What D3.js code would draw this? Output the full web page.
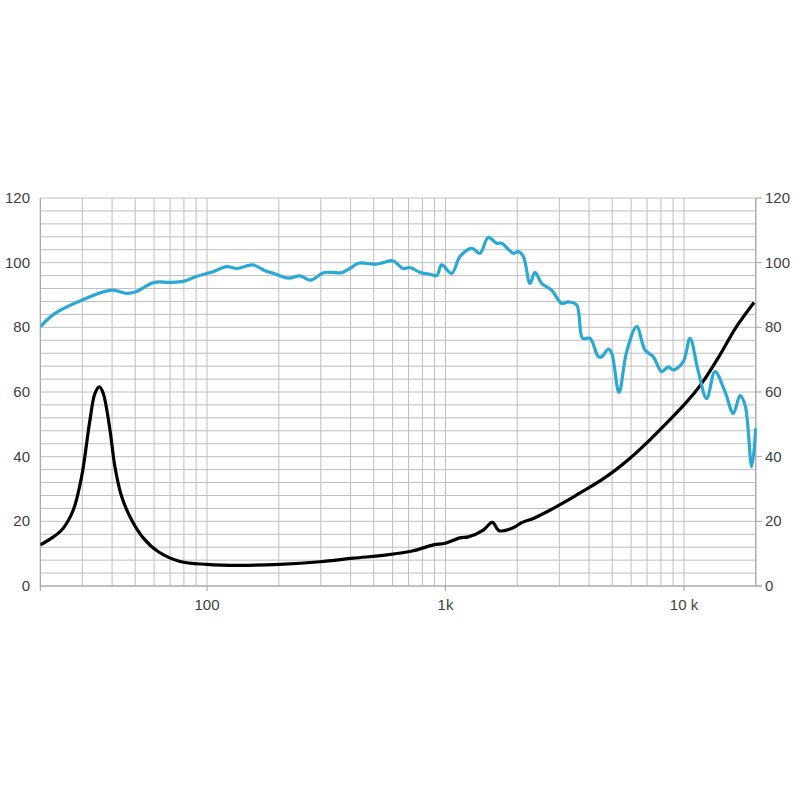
<!DOCTYPE html>
<html>
<head>
<meta charset="utf-8">
<script src="https://cdn.jsdelivr.net/npm/d3@7"></script>
<style>
  html, body { margin: 0; padding: 0; background: #fff; }
  svg text { font-family: "Liberation Sans", Arial, sans-serif; }
</style>
</head>
<body>
<svg id="chart" width="800" height="800"></svg>
<script>
// ---- Data ----
const splFreq = [20, 23.05, 29.8, 39.8, 46, 49.9, 60.1, 70, 80, 90, 100, 106, 121, 133, 145, 156.4, 175, 189.7, 219, 245.5, 272, 307.5, 333.5, 367, 397.7, 430.7, 467.4, 506.4, 548.6, 600.8, 665.5, 709.6, 781.6, 861, 918.5, 963.9, 1062, 1150, 1289, 1395, 1510, 1639, 1720, 1924, 2019, 2120, 2261, 2373, 2530, 2787, 3069, 3272, 3548, 3759, 4036, 4375, 4518, 4816, 4976, 5338, 5750, 6335, 6863, 7432, 8062, 8598, 9019, 9932, 10594, 11481, 12450, 13490, 14860, 16100, 17180, 18030, 19230, 20000];
const splValues = [80.2, 84.3, 88.4, 91.5, 90.5, 90.9, 93.9, 93.9, 94.3, 95.7, 96.7, 97.2, 98.8, 98.2, 98.9, 99.3, 97.5, 96.7, 95.2, 95.9, 94.6, 96.9, 97.0, 96.9, 98.2, 99.8, 99.8, 99.5, 100.0, 100.6, 98.2, 98.5, 97.0, 96.4, 96.0, 99.3, 96.7, 101.9, 104.4, 102.9, 107.8, 106.0, 106.0, 102.9, 103.4, 101.9, 93.6, 97.0, 93.6, 91.5, 87.4, 87.9, 86.9, 76.6, 76.6, 70.9, 70.9, 73.3, 72.0, 59.9, 72.5, 80.2, 73.0, 70.9, 66.3, 67.8, 66.8, 69.4, 76.6, 66.3, 58.0, 66.3, 60.1, 53.4, 58.9, 56.0, 36.9, 48.8];

const impFreq = [20, 22.7, 24.9, 27.5, 29.8, 32.3, 33.9, 35.4, 36.7, 39.2, 41.1, 43.9, 48.3, 54.1, 62.5, 77.1, 99.7, 137.5, 202, 298, 410.7, 567, 733, 889, 995, 1150, 1246, 1440, 1571, 1681, 1924, 2086, 2335, 2831, 3220, 3665, 4445, 5187, 5937, 7195, 8486, 10000, 10906, 11904, 14155, 16520, 19660];
const impValues = [12.7, 15.2, 17.8, 23.5, 33.8, 51.3, 59.6, 61.6, 59.6, 48.2, 36.9, 27.6, 20.4, 14.8, 10.6, 7.6, 6.7, 6.4, 6.7, 7.5, 8.6, 9.6, 10.9, 12.7, 13.2, 14.9, 15.2, 17.3, 19.7, 17.1, 18.0, 19.6, 20.9, 24.0, 26.3, 28.8, 32.5, 36.0, 39.5, 45.2, 50.5, 56.0, 59.2, 62.8, 71.5, 80, 87.7];

const yTicks = [0, 20, 40, 60, 80, 100, 120];
const xTickValues = [100, 1000, 10000];
const xTickLabels = ["100", "1k", "10 k"];

// ---- Layout ----
const svg = d3.select("#chart");
const pL = 40.3, pR = 755.8, pT = 198, pB = 586;

const x = d3.scaleLog().domain([20, 20000]).range([pL, pR]);
const y = d3.scaleLinear().domain([0, 120]).range([pB, pT]);

// minor vertical grid
const vGrid = [];
[10, 100, 1000, 10000].forEach(dec => {
  for (let k = 1; k <= 9; k++) {
    const f = dec * k;
    if (f >= 20 && f <= 20000) vGrid.push(f);
  }
});
const hGrid = d3.range(0, 121, 4);

const grid = svg.append("g");
grid.selectAll("line.v").data(vGrid).enter().append("line")
  .attr("x1", d => x(d)).attr("x2", d => x(d))
  .attr("y1", pT).attr("y2", pB)
  .attr("stroke", "#bebebe").attr("stroke-width", 1);
grid.selectAll("line.h").data(hGrid).enter().append("line")
  .attr("x1", pL).attr("x2", pR)
  .attr("y1", d => y(d)).attr("y2", d => y(d))
  .attr("stroke", "#bebebe").attr("stroke-width", 1);

// axes lines
svg.append("line").attr("x1", pL).attr("x2", pL).attr("y1", pT).attr("y2", pB + 5)
  .attr("stroke", "#a0a0a0");
svg.append("line").attr("x1", pR).attr("x2", pR).attr("y1", pT).attr("y2", pB)
  .attr("stroke", "#a0a0a0");
svg.append("line").attr("x1", pL).attr("x2", pR + 6).attr("y1", pB).attr("y2", pB)
  .attr("stroke", "#a0a0a0");

// right-side tick marks
svg.selectAll("line.rt").data(yTicks).enter().append("line")
  .attr("x1", pR).attr("x2", pR + 6)
  .attr("y1", d => y(d)).attr("y2", d => y(d))
  .attr("stroke", "#a0a0a0");
// bottom tick marks
svg.selectAll("line.bt").data(xTickValues).enter().append("line")
  .attr("x1", d => x(d)).attr("x2", d => x(d))
  .attr("y1", pB).attr("y2", pB + 5)
  .attr("stroke", "#a0a0a0");

// y labels
svg.selectAll("text.yl").data(yTicks).enter().append("text")
  .attr("x", 30).attr("y", d => y(d) + 5)
  .attr("text-anchor", "end").attr("font-size", 15).attr("fill", "#404040")
  .text(d => d);
svg.selectAll("text.yr").data(yTicks).enter().append("text")
  .attr("x", 765).attr("y", d => y(d) + 5)
  .attr("text-anchor", "start").attr("font-size", 15).attr("fill", "#404040")
  .text(d => d);
// x labels
svg.selectAll("text.xl").data(xTickValues).enter().append("text")
  .attr("x", d => x(d)).attr("y", pB + 24)
  .attr("text-anchor", "middle").attr("font-size", 15).attr("fill", "#404040")
  .text((d, i) => xTickLabels[i]);

// ---- Curves ----
const clipId = "plotclip";
svg.append("clipPath").attr("id", clipId).append("rect")
  .attr("x", pL).attr("y", pT - 10).attr("width", pR - pL + 1).attr("height", pB - pT + 10);

const line = d3.line().x(d => x(d[0])).y(d => y(d[1])).curve(d3.curveCatmullRom.alpha(0.5));

const splData = splFreq.map((f, i) => [f, splValues[i]]);
const impData = impFreq.map((f, i) => [f, impValues[i]]);

svg.append("path").datum(impData)
  .attr("d", line).attr("fill", "none")
  .attr("stroke", "#000").attr("stroke-width", 3.2).attr("stroke-linejoin", "round")
  .attr("clip-path", `url(#${clipId})`);
svg.append("path").datum(splData)
  .attr("d", line).attr("fill", "none")
  .attr("stroke", "#2aa8d4").attr("stroke-width", 3.2).attr("stroke-linejoin", "round")
  .attr("clip-path", `url(#${clipId})`);
</script>
</body>
</html>
